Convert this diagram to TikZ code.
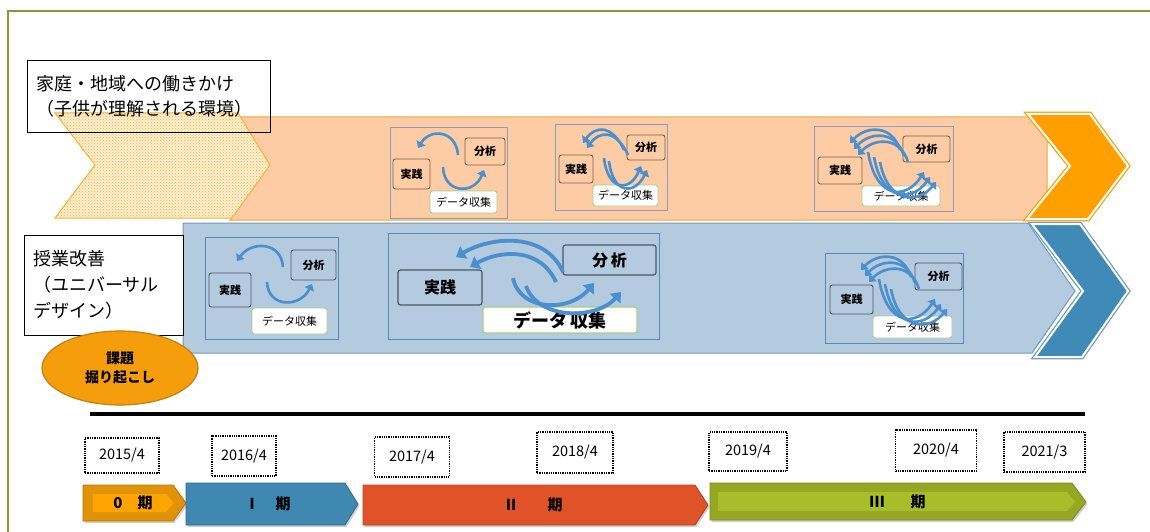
\documentclass[tikz,border=0pt]{standalone}
\usepackage{fontspec}
\setmainfont{Noto Sans CJK JP}
\usetikzlibrary{arrows.meta,patterns,shapes.geometric}
\definecolor{frameC}{HTML}{8A9B2E}
\definecolor{bandO}{HTML}{FDCCA4}
\definecolor{bandOb}{HTML}{F7A734}
\definecolor{chevO}{HTML}{FF9F00}
\definecolor{dotO}{HTML}{F9B233}
\definecolor{bandB}{HTML}{B4CADE}
\definecolor{bandBb}{HTML}{6E9AC0}
\definecolor{chevB}{HTML}{3F8AB6}
\definecolor{ellF}{HTML}{F59D0A}
\definecolor{ellD}{HTML}{C27E12}
\definecolor{outO}{HTML}{8C9EBD}
\definecolor{inO}{HTML}{7D5E46}
\definecolor{outB}{HTML}{5E86B0}
\definecolor{inB}{HTML}{4A5866}
\definecolor{datG}{HTML}{A5CD88}
\definecolor{arrC}{HTML}{4A8FCF}
\definecolor{p0o}{HTML}{E0920A}
\definecolor{p0i}{HTML}{FFA400}
\definecolor{p1}{HTML}{3F88B2}
\definecolor{p1d}{HTML}{2E6B93}
\definecolor{p2}{HTML}{E05328}
\definecolor{p2d}{HTML}{B54220}
\definecolor{p3o}{HTML}{94A824}
\definecolor{p3i}{HTML}{A7BE2A}
\definecolor{p3d}{HTML}{7C8E1E}
\tikzset{
  lbox/.style={draw=black, line width=1pt, font=\fontsize{18}{25}\selectfont, align=left},
  outbox/.style={draw=#1, line width=0.9pt},
  inbox/.style={draw=#1, line width=0.9pt, rounded corners=2.5pt, font=\bfseries\fontsize{11}{12}\selectfont},
  datbox/.style={draw=datG, fill=white, line width=0.9pt, rounded corners=2.5pt, font=\fontsize{11}{12}\selectfont},
  cyc/.style={draw=arrC, line width=2.6pt, -{Triangle[length=6pt,width=10pt]}},
  cycbig/.style={draw=arrC, line width=3.8pt, -{Triangle[length=9pt,width=14pt]}},
  datebox/.style={draw=black, densely dotted, line width=1.3pt, font=\fontsize{14.5}{15}\selectfont},
  phtxt/.style={font=\bfseries\fontsize{15}{16}\selectfont},
  shadowed/.style={preaction={fill=black!18, transform canvas={shift={(1.5pt,-2pt)}}}}
}
\newcommand\tripleArcs{%
  \foreach \i in {0,1,2}{
    \draw[cyc] ({900+4*\i},{150+6*\i}) .. controls ({892+4*\i},{124+6*\i}) and ({866+4*\i},{126+6*\i}) .. ({850+4*\i},{143+6*\i});
    \draw[cyc] ({868+6*\i},{152+5*\i}) .. controls ({876+6*\i},{200+2*\i}) and ({906+6*\i},{200+2*\i}) .. ({924+6*\i},{172+5*\i});
  }}
\begin{document}
\begin{tikzpicture}[x=1pt,y=-1pt, every node/.style={inner sep=0pt, outer sep=0pt}]
\useasboundingbox (0,0) rectangle (1150,532);
\fill[white] (0,0) rectangle (1150,532);
% frame
\draw[frameC, line width=1.6pt] (8,540) -- (8,11) -- (1160,11);

% orange band
\draw[fill=bandO, draw=bandOb, line width=1pt] (236,117) -- (1047,117) -- (1047,220) -- (230,220) -- (268,166) -- cycle;
% dotted chevron
\draw[fill=dotO!22, postaction={pattern=crosshatch dots, pattern color=dotO}, draw=dotO, line width=1pt]
  (55,113) -- (238,113) -- (270,165) -- (232,218) -- (55,218) -- (95,165) -- cycle;
% orange chevron
\draw[chevO, line width=4.5pt, line join=miter] (1028,114) -- (1090,114) -- (1128,166) -- (1088,219) -- (1027,219) -- (1070,166) -- cycle;
\draw[fill=chevO, draw=white, line width=2pt] (1028,114) -- (1090,114) -- (1128,166) -- (1088,219) -- (1027,219) -- (1070,166) -- cycle;

% blue band
\draw[fill=bandB, draw=bandBb, line width=1pt] (183,223) -- (1028,223) -- (1075,291) -- (1032,353) -- (183,353) -- cycle;
\draw[bandBb, line width=4.5pt] (1032,224) -- (1080,224) -- (1128,291) -- (1082,357) -- (1035,357) -- (1083,291) -- cycle;
\draw[fill=chevB, draw=white, line width=2pt] (1032,224) -- (1080,224) -- (1128,291) -- (1082,357) -- (1035,357) -- (1083,291) -- cycle;

% label boxes
\node[lbox, minimum width=243pt, minimum height=71pt, text width=225pt] (lab1) at (148.5,96.5) {家庭・地域への働きかけ\\（子供が理解される環境）};
\node[lbox, fill=white, font=\fontsize{18}{26}\selectfont, minimum width=159pt, minimum height=100pt, text width=141pt] (lab2) at (103.5,285) {授業改善\\（ユニバーサル\\デザイン）};
\node[ellipse, draw=ellD, fill=ellF, line width=1.2pt, minimum width=156pt, minimum height=74pt, align=center, font=\bfseries\fontsize{14}{19}\selectfont] (kadai) at (120,368) {課題\\掘り起こし};

% cycle box A
\node[outbox=outO, minimum width=117pt, minimum height=91pt] (boxA) at (448.5,172.5) {};
\node[inbox=inO, minimum width=37pt, minimum height=30pt] (jA) at (411.5,174) {実践};
\node[inbox=inO, minimum width=40pt, minimum height=27pt] (bA) at (485,151.5) {分析};
\node[datbox, minimum width=67pt, minimum height=22pt] (dA) at (463.5,202) {データ収集};
\draw[cyc] (458,155) .. controls (456,130) and (430,128) .. (418,148);
\draw[cyc] (443,167) .. controls (444,194) and (474,195) .. (484,170);

% cycle box B
\node[outbox=outO, minimum width=112pt, minimum height=86pt] (boxB) at (611,167) {};
\node[inbox=inO, minimum width=34pt, minimum height=28pt] (jB) at (576,169) {実践};
\node[inbox=inO, minimum width=38pt, minimum height=25pt] (bB) at (646,147.5) {分析};
\node[datbox, minimum width=65pt, minimum height=21pt] (dB) at (625.5,195.5) {データ収集};
\foreach \i in {0,1}{
  \draw[cyc] ({624+4*\i},{150+5*\i}) .. controls ({612+4*\i},{124+5*\i}) and ({595+4*\i},{126+5*\i}) .. ({583+4*\i},{143+5*\i});
  \draw[cyc] ({604+5*\i},{158+3*\i}) .. controls ({608+5*\i},{192+3*\i}) and ({630+5*\i},{192+3*\i}) .. ({641+6*\i},{166+4*\i});
}

% cycle box C
\node[outbox=outO, minimum width=139pt, minimum height=85pt] (boxC) at (883.5,168.5) {};
\node[inbox=inO, minimum width=44pt, minimum height=27pt] (jC) at (840,170.5) {実践};
\node[inbox=inO, minimum width=47pt, minimum height=26pt] (bC) at (926.5,149) {分析};
\node[datbox, minimum width=78pt, minimum height=20pt] (dC) at (901,196) {データ収集};
\tripleArcs

% cycle box D
\node[outbox=outB, minimum width=133pt, minimum height=102pt] (boxD) at (271.5,288) {};
\node[inbox=inB, minimum width=42pt, minimum height=34pt] (jD) at (230,290) {実践};
\node[inbox=inB, minimum width=45pt, minimum height=30pt] (bD) at (313.5,265) {分析};
\node[datbox, minimum width=75pt, minimum height=26pt] (dD) at (289.5,321) {データ収集};
\draw[cyc] (283,267) .. controls (281,241) and (251,241) .. (237,261);
\draw[cyc] (267,282) .. controls (268,308) and (300,308) .. (312,284);

% cycle box E
\node[outbox=outB, minimum width=271pt, minimum height=106pt] (boxE) at (523.5,286) {};
\node[inbox=inB, line width=1.2pt, minimum width=84pt, minimum height=35pt, font=\bfseries\fontsize{16}{17}\selectfont] (jE) at (440,287.5) {実践};
\node[inbox=inB, line width=1.2pt, minimum width=93pt, minimum height=30pt, font=\bfseries\fontsize{16}{17}\selectfont] (bE) at (609.5,260) {分\,析};
\node[datbox, line width=1.2pt, minimum width=154pt, minimum height=26pt, font=\bfseries\fontsize{18}{19}\selectfont] (dE) at (560,320) {データ\,収集};
\draw[cycbig] (563,272) .. controls (545,232) and (492,236) .. (456,257);
\draw[cycbig] (556,282) .. controls (540,247) and (500,250) .. (470,267);
\draw[cycbig] (513,278) .. controls (520,312) and (570,312) .. (594,283);
\draw[cycbig] (526,286) .. controls (538,320) and (596,320) .. (621,292);

% cycle box F
\node[outbox=outB, minimum width=138pt, minimum height=90pt] (boxF) at (894,298) {};
\node[inbox=inB, minimum width=43pt, minimum height=29pt] (jF) at (851.5,299.5) {実践};
\node[inbox=inB, minimum width=47pt, minimum height=27pt] (bF) at (938.5,276.5) {分析};
\node[datbox, minimum width=79pt, minimum height=22pt] (dF) at (912.5,327) {データ収集};
\begin{scope}[shift={(11,127)}]
\tripleArcs
\end{scope}

% timeline
\draw[black, line width=4pt] (90,414) coordinate (tl0) -- (1085,414) coordinate (tl1);
\node[datebox, minimum width=74pt, minimum height=35pt] (d15) at (122,455.5) {2015/4};
\node[datebox, minimum width=64pt, minimum height=40pt] (d16) at (244,456) {2016/4};
\node[datebox, minimum width=75pt, minimum height=40pt] (d17) at (412,457) {2017/4};
\node[datebox, minimum width=76pt, minimum height=41pt] (d18) at (575,452.5) {2018/4};
\node[datebox, minimum width=78pt, minimum height=39pt] (d19) at (748,451.5) {2019/4};
\node[datebox, minimum width=81pt, minimum height=41pt] (d20) at (936,450.5) {2020/4};
\node[datebox, minimum width=81pt, minimum height=40pt] (d21) at (1044.5,452) {2021/3};

% phase arrows
\draw[shadowed, fill=p0o, draw=p0o!80!black, line width=0.8pt] (83,485) -- (173,485) -- (186,503) -- (173,521) -- (83,521) -- cycle;
\fill[p0i] (93,494) -- (166,494) -- (174,503) -- (166,512) -- (93,512) -- cycle;
\draw[shadowed, fill=p1, draw=p1d, line width=0.8pt] (186,483) -- (345,483) -- (358,504) -- (345,525) -- (186,525) -- cycle;
\draw[shadowed, fill=p2, draw=p2d, line width=0.8pt] (363,485) -- (695,485) -- (708,505) -- (695,525) -- (363,525) -- cycle;
\draw[shadowed, fill=p3o, draw=p3d, line width=0.8pt] (710,483) -- (1072,483) -- (1086,502) -- (1072,520) -- (710,520) -- cycle;
\fill[p3i] (718,492) -- (1067,492) -- (1075,502) -- (1067,511) -- (718,511) -- cycle;
\node[phtxt] (t0a) at (118,503) {0};
\node[phtxt] (t0b) at (145,503) {期};
\node[phtxt] (t1a) at (252,504) {Ⅰ};
\node[phtxt] (t1b) at (283,504) {期};
\node[phtxt] (t2a) at (511,505) {Ⅱ};
\node[phtxt] (t2b) at (555,505) {期};
\node[phtxt] (t3a) at (877,502) {Ⅲ};
\node[phtxt] (t3b) at (918,502) {期};
\end{tikzpicture}
\end{document}
